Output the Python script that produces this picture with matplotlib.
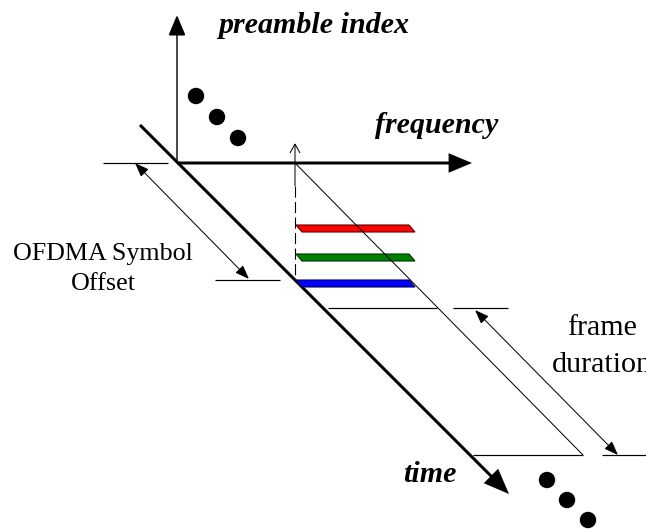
"""
OFDMA 前导码 / 帧时序示意图
"""
import matplotlib
matplotlib.use('Agg')
import matplotlib.pyplot as plt
from matplotlib.patches import FancyArrowPatch, Polygon, Circle

W, H, DPI = 646, 529, 100
PX = 72.0 / DPI  # 像素 -> 磅

# 坐标轴文字
axis_labels = ['preamble index', 'frequency', 'time']
label_pos = [(218, 33), (375, 133), (403, 482)]
offset_label = ['OFDMA Symbol', 'Offset']
frame_label = ['frame', 'duration']

# 省略号圆点
dots_top_x = [196, 217, 238]
dots_top_y = [96, 117, 138]
dots_bot_x = [547, 567, 588]
dots_bot_y = [480, 500, 520]

# 彩色子载波条
bar_colors = ['#ff0000', '#008000', '#0000ff']
bar_edges = ['#5a0000', '#003000', '#00005a']
bar_top = [225, 254, 280]

fig = plt.figure(figsize=(W / DPI, H / DPI), dpi=DPI)
ax = fig.add_axes([0, 0, 1, 1])
ax.set_xlim(0, W)
ax.set_ylim(H, 0)
ax.set_aspect('equal')
ax.axis('off')


def arrow(p0, p1, lw, style='-|>', hl=10, hw=4, ls='-'):
    # hl, hw 以像素给出
    if style == '-':
        st = '-'
    else:
        st = '%s,head_length=%.3f,head_width=%.3f' % (style, hl * PX, hw * PX)
    a = FancyArrowPatch(p0, p1, arrowstyle=st, mutation_scale=1, lw=lw * PX,
                        color='black', shrinkA=0, shrinkB=0, linestyle=ls,
                        joinstyle='miter', capstyle='butt')
    ax.add_patch(a)


def line(xs, ys, lw, **kw):
    ax.plot(xs, ys, color='black', lw=lw * PX, solid_capstyle='butt', **kw)


# 主坐标轴
arrow((177, 163), (177, 15), 1.4, hl=18, hw=7.5)
arrow((177, 163), (472, 163), 3.0, hl=18, hw=7.5)
arrow((140, 125), (509, 494), 3.0, hl=20, hw=8)

# 参考刻度线
line([103, 168], [163, 163], 1.2)
line([215, 280], [280, 280], 1.2)
line([453, 508], [308, 308], 1.2)
line([602, 646], [455, 455], 1.2)

# 帧的平行四边形
line([295, 583], [163, 455], 1.0)
line([328, 437], [308, 308], 1.2)
line([473, 583], [455, 455], 1.2)

# 虚线竖向箭头
arrow((295, 186), (295, 143), 1.0, style='->', hl=9, hw=5)
line([295, 295], [186, 280], 1.1, dashes=(10 * PX * 1.4, 4 * PX * 1.4))

# 双向箭头
arrow((135, 163), (249, 279), 1.0, style='<|-|>', hl=12, hw=4.5)
arrow((475, 310), (618, 455), 1.0, style='<|-|>', hl=12, hw=4.5)

# 彩色条
for c, e, y in zip(bar_colors, bar_edges, bar_top):
    pts = [(296, y), (409, y), (415, y + 7), (302, y + 7)]
    ax.add_patch(Polygon(pts, closed=True, facecolor=c, edgecolor=e, lw=0.8))

# 圆点
for xs, ys in [(dots_top_x, dots_top_y), (dots_bot_x, dots_bot_y)]:
    for x, y in zip(xs, ys):
        ax.add_patch(Circle((x, y), 7.5, color='black'))

# 文字
for s, (x, y) in zip(axis_labels, label_pos):
    ax.text(x, y, s, fontsize=30 * PX, family='Liberation Serif', weight='bold',
            style='italic', ha='left', va='baseline')

for s, y in zip(offset_label, [260, 290]):
    ax.text(103, y, s, fontsize=26 * PX, family='Liberation Serif',
            ha='center', va='baseline')

for s, y in zip(frame_label, [335, 372]):
    ax.text(602, y, s, fontsize=30 * PX, family='Liberation Serif',
            ha='center', va='baseline')

fig.savefig('out.png', dpi=DPI)
